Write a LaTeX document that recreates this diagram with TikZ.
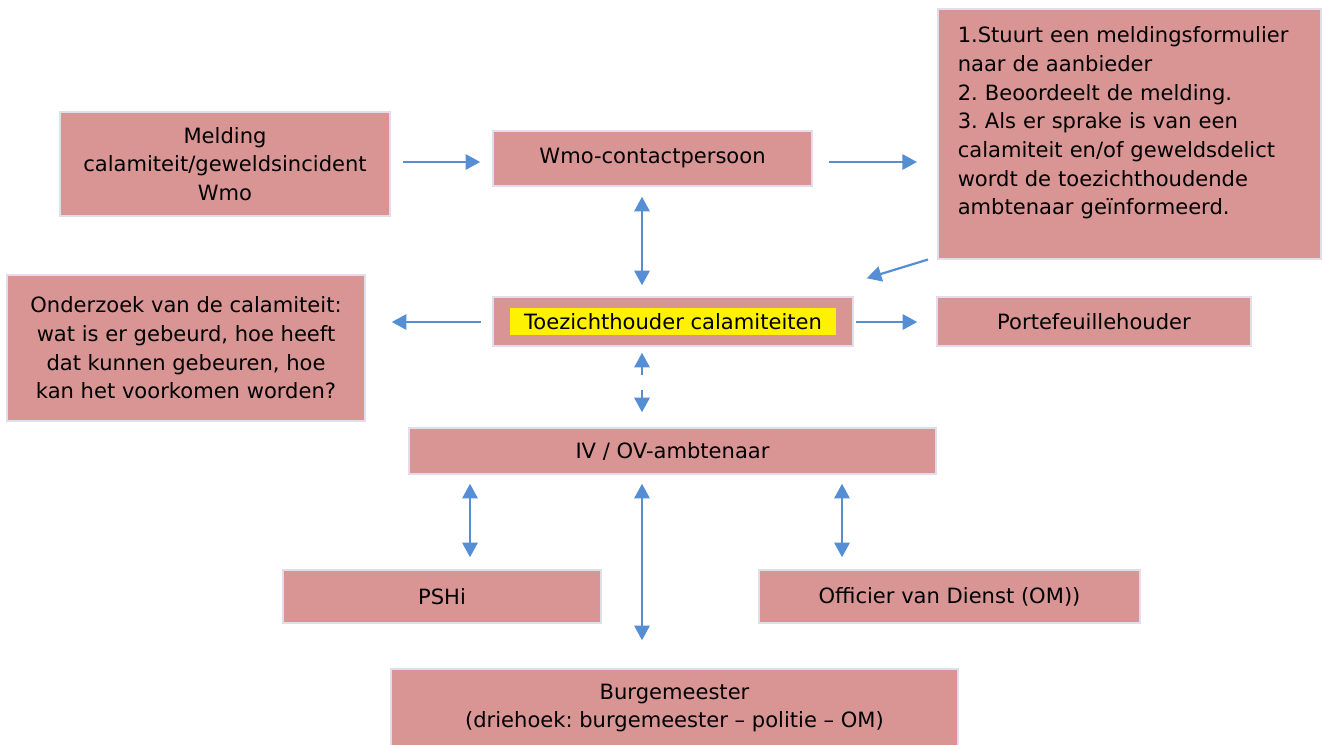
\documentclass[tikz,border=0pt]{standalone}
\usepackage{fontspec}
\setmainfont{DejaVu Sans}
\usetikzlibrary{arrows.meta}
\definecolor{boxfill}{RGB}{217,149,148}
\definecolor{boxline}{RGB}{226,221,236}
\definecolor{arrowblue}{RGB}{85,142,213}
\frenchspacing

\begin{document}
\begin{tikzpicture}[x=0.75pt,y=-0.75pt,
    >={Triangle[width=11.5pt,length=11pt]},
    box/.style={draw=boxline,line width=1.125pt,fill=boxfill,inner sep=0pt,align=center,
      font=\fontsize{15.8}{21.5}\selectfont},
    arr/.style={->,draw=arrowblue,line width=1.65pt},
    biarr/.style={<->,draw=arrowblue,line width=1.65pt}]
    \useasboundingbox (0,0) rectangle (1323,744);
    \clip (0,0) rectangle (1323,744);

    \node[box,minimum width=247.5pt,minimum height=78pt] (melding) at (225,164)
        {Melding\\calamiteit/geweldsincident\\Wmo};
    \node[box,minimum width=239.25pt,minimum height=41.25pt] (wmo) at (652.5,158.5)
        {Wmo-contactpersoon};
    \node[box,anchor=north west,text width=257.25pt,align=left,inner xsep=15pt,inner ysep=13.5pt] (stappen) at (937,8)
        {1.Stuurt een meldingsformulier\\naar de aanbieder\\2. Beoordeelt de melding.\\3. Als er sprake is van een\\calamiteit en/of geweldsdelict\\wordt de toezichthoudende\\ambtenaar geïnformeerd.\rule[-19.5pt]{0pt}{0pt}};
    \node[box,minimum width=268.5pt,minimum height=109.5pt] (onderzoek) at (186,348)
        {Onderzoek van de calamiteit:\\wat is er gebeurd, hoe heeft\\dat kunnen gebeuren, hoe\\kan het voorkomen worden?};
    \node[box,minimum width=270pt,minimum height=36.75pt] (toez) at (673,321.5)
        {\setlength{\fboxsep}{0pt}\colorbox{yellow}{\parbox[c][20.25pt][c]{244.5pt}{\centering Toezichthouder calamiteiten}}};
    \node[box,minimum width=235.5pt,minimum height=36.75pt] (porte) at (1094,321.5)
        {Portefeuillehouder};
    \node[box,minimum width=395.25pt,minimum height=34.5pt] (iv) at (672.5,451)
        {IV / OV-ambtenaar};
    \node[box,minimum width=238.5pt,minimum height=39.75pt] (pshi) at (442,596.5)
        {PSHi};
    \node[box,minimum width=285.75pt,minimum height=39.75pt] (officier) at (949.5,596.5)
        {Officier van Dienst (OM))};
    \node[box,minimum width=425.25pt,minimum height=58.5pt] (burg) at (674.5,708)
        {Burgemeester\\(driehoek: burgemeester – politie – OM)};

    \draw[arr,shorten <=9pt,shorten >=9pt] (melding.east |- 0,162) -- (wmo.west |- 0,162);
    \draw[arr,shorten <=12pt,shorten >=15pt] (wmo.east |- 0,162) -- (stappen.west |- 0,162);
    \draw[arr] ([xshift=-6.75pt]stappen.south west) -- ([xshift=9.75pt,yshift=13.5pt]toez.north east);
    \draw[biarr,shorten <=7.5pt,shorten >=8.25pt] (642,0 |- wmo.south) -- (642,0 |- toez.north);
    \draw[arr,shorten <=8.25pt,shorten >=19.5pt] (toez.west |- 0,322) -- (onderzoek.east |- 0,322);
    \draw[arr,shorten <=1.5pt,shorten >=14.25pt] (toez.east |- 0,322) -- (porte.west |- 0,322);
    \draw[biarr,shorten <=4.5pt,shorten >=11.25pt,dash pattern=on 6pt off 11.25pt on 22.5pt] (642,0 |- toez.south) -- (642,0 |- iv.north);
    \draw[biarr,shorten <=6.75pt,shorten >=9pt] (470,0 |- iv.south) -- (470,0 |- pshi.north);
    \draw[biarr,shorten <=6.75pt,shorten >=21pt] (642,0 |- iv.south) -- (642,0 |- burg.north);
    \draw[biarr,shorten <=6.75pt,shorten >=9pt] (842,0 |- iv.south) -- (842,0 |- officier.north);
\end{tikzpicture}
\end{document}
